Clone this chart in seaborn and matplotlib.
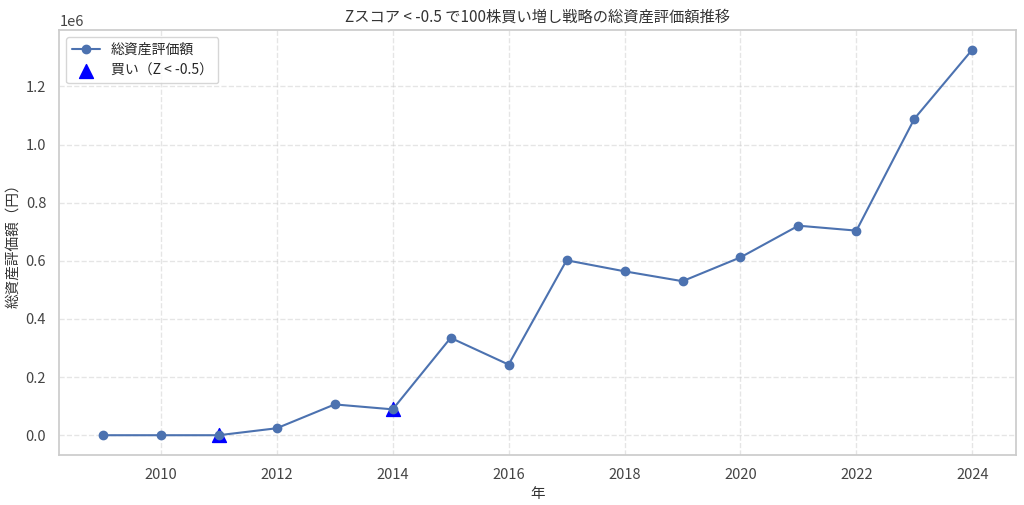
import matplotlib
matplotlib.use("Agg")
import matplotlib.pyplot as plt
import seaborn as sns
import pandas as pd

years = [2009, 2010, 2011, 2012, 2013, 2014, 2015, 2016, 2017, 2018, 2019, 2020, 2021, 2022, 2023, 2024]
total_value = [0, 0, 0, 24000, 106000, 89000, 335000, 243000, 602000, 564000, 530000, 612000, 721000, 704000, 1089000, 1327000]
buy_years = [2011, 2014]
buy_values = [0, 89000]

sns.set_theme(style="whitegrid")
plt.rcParams['font.family'] = ['Noto Sans CJK JP', 'DejaVu Sans']
plt.rcParams['axes.unicode_minus'] = False

df = pd.DataFrame({"年": years, "総資産評価額": total_value})
buys = pd.DataFrame({"年": buy_years, "総資産評価額": buy_values})

fig, ax = plt.subplots(figsize=(10.24, 5.05), dpi=100)
ax.plot(df["年"], df["総資産評価額"], marker="o", color="#4c72b0", label="総資産評価額", markersize=6, linewidth=1.5)
ax.scatter(buys["年"], buys["総資産評価額"], marker="^", color="blue", s=100, label="買い（Z < -0.5）", zorder=1)

ax.set_title("Zスコア < -0.5 で100株買い増し戦略の総資産評価額推移", fontsize=11, color="#333333")
ax.set_xlabel("年", fontsize=10.5, color="#333333")
ax.set_ylabel("総資産評価額（円）", fontsize=10.5, color="#333333")
ax.tick_params(labelsize=10.5, colors="#444444")
ax.yaxis.get_offset_text().set_fontsize(10.5)
ax.grid(True, linestyle="--", alpha=0.5)
ax.legend(loc="upper left", fontsize=10)

fig.subplots_adjust(left=0.058, right=0.992, top=0.94, bottom=0.1)
fig.savefig("out.png", dpi=100)
